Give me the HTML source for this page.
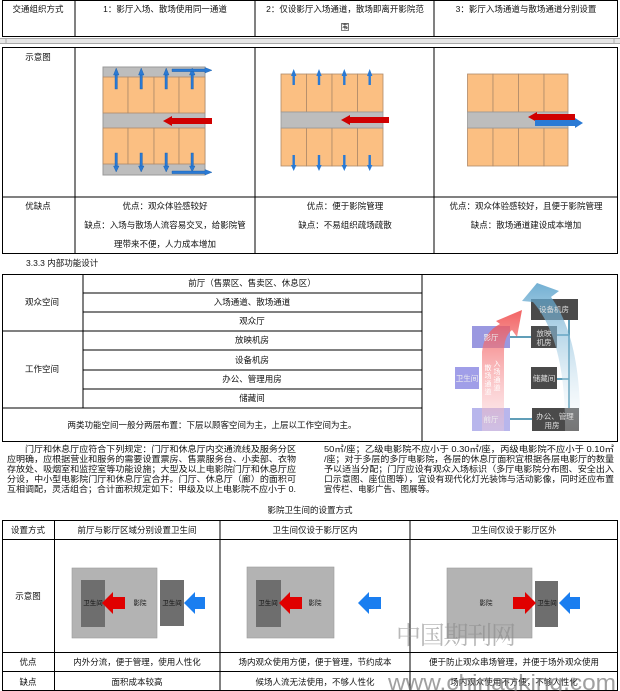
<!DOCTYPE html>
<html><head><meta charset="utf-8"><style>
html,body{margin:0;padding:0;background:#fff;width:620px;height:691px;overflow:hidden}
svg text{font-family:"Liberation Sans","Noto Sans CJK SC",sans-serif;font-size:8.5px;fill:#111}
</style></head><body>
<svg width="620" height="691" viewBox="0 0 620 691" xmlns="http://www.w3.org/2000/svg">
<defs>
<linearGradient id="rg" x1="0" y1="1" x2="0" y2="0"><stop offset="0" stop-color="#fbd0d6" stop-opacity="0.4"/><stop offset="1" stop-color="#f04848"/></linearGradient>
<linearGradient id="bg" x1="0" y1="1" x2="0" y2="0"><stop offset="0" stop-color="#ffffff" stop-opacity="0.3"/><stop offset="1" stop-color="#4f9cc8"/></linearGradient>
</defs>
<g stroke="#000" stroke-width="1" fill="none">
<!-- top table row1 -->
<rect x="2.5" y="0.5" width="615" height="36"/>
<line x1="75" y1="0" x2="75" y2="36"/><line x1="255" y1="0" x2="255" y2="36"/><line x1="434" y1="0" x2="434" y2="36"/>
<!-- rows 2,3 -->
<rect x="2.5" y="47.5" width="615" height="206"/>
<line x1="2" y1="197" x2="618" y2="197"/>
<line x1="75" y1="47" x2="75" y2="254"/><line x1="255" y1="47" x2="255" y2="254"/><line x1="434" y1="47" x2="434" y2="254"/>
</g>
<rect x="0" y="38" width="620" height="5" fill="#e6e6e6"/>
<line x1="0" y1="38.5" x2="620" y2="38.5" stroke="#aaa"/><line x1="0" y1="43.5" x2="620" y2="43.5" stroke="#aaa"/>
<line x1="6" y1="38" x2="6" y2="44" stroke="#aaa"/><line x1="614" y1="38" x2="614" y2="44" stroke="#aaa"/>
<text x="38" y="12" text-anchor="middle">交通组织方式</text>
<text x="165" y="12" text-anchor="middle">1：影厅入场、散场使用同一通道</text>
<text x="345" y="12" text-anchor="middle">2：仅设影厅入场通道，散场即离开影院范</text>
<text x="345" y="30" text-anchor="middle">围</text>
<text x="526" y="12" text-anchor="middle">3：影厅入场通道与散场通道分别设置</text>
<text x="38" y="60" text-anchor="middle">示意图</text>
<text x="38" y="209" text-anchor="middle">优缺点</text>
<text x="165" y="209" text-anchor="middle">优点：观众体验感较好</text>
<text x="165" y="228" text-anchor="middle">缺点：入场与散场人流容易交叉，给影院管</text>
<text x="165" y="247" text-anchor="middle">理带来不便，人力成本增加</text>
<text x="345" y="209" text-anchor="middle">优点：便于影院管理</text>
<text x="345" y="228" text-anchor="middle">缺点：不易组织疏场疏散</text>
<text x="526" y="209" text-anchor="middle">优点：观众体验感较好，且便于影院管理</text>
<text x="526" y="228" text-anchor="middle">缺点：散场通道建设成本增加</text>

<!-- diagram 1 -->
<rect x="103" y="67" width="102" height="108" fill="#bdbdbd" stroke="#999"/>
<g fill="#fbbf82" stroke="#b08a6a" stroke-width="0.8">
<rect x="103" y="77" width="25" height="36"/><rect x="128" y="77" width="26" height="36"/><rect x="154" y="77" width="25" height="36"/><rect x="179" y="77" width="26" height="36"/>
<rect x="103" y="128" width="25" height="36"/><rect x="128" y="128" width="26" height="36"/><rect x="154" y="128" width="25" height="36"/><rect x="179" y="128" width="26" height="36"/>
</g>
<g fill="#2a7ad5" stroke="#1a5ea8" stroke-width="0.4">
<g id="up"><rect x="115" y="74" width="2.4" height="15"/><polygon points="113.5,75 116.2,68 119,75"/></g>
<use href="#up" x="25"/><use href="#up" x="50"/><use href="#up" x="76"/>
<g id="dn"><rect x="115" y="153" width="2.4" height="14"/><polygon points="113.5,166 116.2,172 119,166"/></g>
<use href="#dn" x="25"/><use href="#dn" x="50"/><use href="#dn" x="76"/>
<polygon points="172,69 205,69 205,67.5 212,70.3 205,73 205,71.6 172,71.6"/>
<polygon points="172,171 205,171 205,169.5 212,172.3 205,175 205,173.6 172,173.6"/>
</g>
<polygon points="212,118 172,118 172,116 163,121 172,126 172,124 212,124" fill="#d00000"/>

<!-- diagram 2 -->
<g fill="#fbbf82" stroke="#b08a6a" stroke-width="0.8">
<rect x="281" y="74" width="25.5" height="38"/><rect x="306.5" y="74" width="25.5" height="38"/><rect x="332" y="74" width="25.5" height="38"/><rect x="357.5" y="74" width="25.5" height="38"/>
<rect x="281" y="128" width="25.5" height="38"/><rect x="306.5" y="128" width="25.5" height="38"/><rect x="332" y="128" width="25.5" height="38"/><rect x="357.5" y="128" width="25.5" height="38"/>
</g>
<rect x="281" y="112" width="102" height="16" fill="#bdbdbd" stroke="#999" stroke-width="0.8"/>
<g fill="#2a7ad5">
<g id="up2"><rect x="292.5" y="75" width="2.4" height="10"/><polygon points="291,76 293.7,69 296.4,76"/></g>
<use href="#up2" x="25.3"/><use href="#up2" x="50.6"/><use href="#up2" x="76"/>
<g id="dn2"><rect x="292.5" y="155" width="2.4" height="11"/><polygon points="291,165 293.7,171 296.4,165"/></g>
<use href="#dn2" x="25.3"/><use href="#dn2" x="50.6"/><use href="#dn2" x="76"/>
</g>
<polygon points="389,117 350,117 350,115 341,120 350,125 350,123 389,123" fill="#d00000"/>

<!-- diagram 3 -->
<g fill="#fbbf82" stroke="#b08a6a" stroke-width="0.8">
<rect x="467.5" y="74" width="25.5" height="38"/><rect x="493" y="74" width="25.5" height="38"/><rect x="518.5" y="74" width="25.5" height="38"/><rect x="544" y="74" width="24" height="38"/>
<rect x="467.5" y="128" width="25.5" height="38"/><rect x="493" y="128" width="25.5" height="38"/><rect x="518.5" y="128" width="25.5" height="38"/><rect x="544" y="128" width="24" height="38"/>
</g>
<rect x="467.5" y="112" width="100.5" height="16" fill="#bdbdbd" stroke="#999" stroke-width="0.8"/>
<polygon points="575,114 537,114 537,112 528,117 537,122 537,120 575,120" fill="#d00000"/>
<polygon points="535,120 575,120 575,118 583,123 575,128 575,126 535,126" fill="#2a7ad5"/>

<!-- section 2 -->
<text x="26" y="266">3.3.3 内部功能设计</text>
<g stroke="#000" stroke-width="1" fill="none">
<rect x="2.5" y="274.5" width="615" height="167"/>
<line x1="83" y1="274" x2="83" y2="408"/><line x1="422" y1="274" x2="422" y2="442"/>
<line x1="83" y1="293" x2="422" y2="293"/><line x1="83" y1="312" x2="422" y2="312"/>
<line x1="2" y1="331" x2="422" y2="331"/><line x1="83" y1="350" x2="422" y2="350"/>
<line x1="83" y1="370" x2="422" y2="370"/><line x1="83" y1="389" x2="422" y2="389"/>
<line x1="2" y1="408" x2="422" y2="408"/>
</g>
<text x="42" y="305" text-anchor="middle">观众空间</text>
<text x="42" y="372" text-anchor="middle">工作空间</text>
<g text-anchor="middle">
<text x="252" y="286">前厅（售票区、售卖区、休息区）</text>
<text x="252" y="305">入场通道、散场通道</text>
<text x="252" y="324">观众厅</text>
<text x="252" y="343">放映机房</text>
<text x="252" y="363">设备机房</text>
<text x="252" y="382">办公、管理用房</text>
<text x="252" y="401">储藏间</text>
<text x="212" y="428">两类功能空间一般分两层布置：下层以顾客空间为主，上层以工作空间为主。</text>
</g>
<!-- function diagram -->
<g stroke="#2b7ea0" stroke-width="1.5">
<line x1="569" y1="320" x2="569" y2="418"/>
<line x1="510" y1="337" x2="531" y2="337"/><line x1="557" y1="335" x2="569" y2="335"/>
<line x1="557" y1="379" x2="569" y2="379"/><line x1="510" y1="419" x2="532" y2="419"/>
</g>
<rect x="531" y="299" width="47" height="21" fill="#4a4a4a"/>
<rect x="531" y="326" width="26" height="22" fill="#4a4a4a"/>
<rect x="531" y="367" width="26" height="22" fill="#4a4a4a"/>
<rect x="532" y="408" width="47" height="23" fill="#4a4a4a"/>
<rect x="472" y="326" width="38" height="22" fill="#9a98e0"/>
<rect x="455" y="367" width="24" height="22" fill="#a09ee8"/>
<rect x="472" y="408" width="38" height="23" fill="#b8b6ec"/>
<path d="M482,431 L482,352 Q484,332 500,324 L496,321 L522,310 L517,337 L512,330 Q504,336 504,352 L504,431 Z" fill="url(#rg)" opacity="0.85"/>
<path d="M565,431 Q566,340 533,302 L522,301 L537,283 L559,291 L551,297 Q582,340 580,431 Z" fill="url(#bg)" opacity="0.8"/>
<g style="font-size:7.5px" text-anchor="middle">
<text x="554" y="312" style="fill:#ddd;font-size:7.5px">设备机房</text>
<text x="544" y="336" style="fill:#ddd;font-size:7.5px">放映</text>
<text x="544" y="345" style="fill:#ddd;font-size:7.5px">机房</text>
<text x="544" y="381" style="fill:#ddd;font-size:7.5px">储藏间</text>
<text x="555" y="419" style="fill:#ddd;font-size:7.5px">办公、管理</text>
<text x="552" y="428" style="fill:#ddd;font-size:7.5px">用房</text>
<text x="491" y="340" style="fill:#eee;font-size:7.5px">影厅</text>
<text x="467" y="381" style="fill:#eee;font-size:7.5px">卫生间</text>
<text x="491" y="422" style="fill:#eee;font-size:7.5px">前厅</text>
<text x="488" y="370" style="fill:#fff;font-size:7px">散</text><text x="488" y="378" style="fill:#fff;font-size:7px">场</text><text x="488" y="386" style="fill:#fff;font-size:7px">通</text><text x="488" y="394" style="fill:#fff;font-size:7px">道</text>
<text x="497" y="366" style="fill:#fff;font-size:7px">入</text><text x="497" y="374" style="fill:#fff;font-size:7px">场</text><text x="497" y="382" style="fill:#fff;font-size:7px">通</text><text x="497" y="390" style="fill:#fff;font-size:7px">道</text>
</g>
<!-- paragraphs -->
<g style="font-size:8.3px">
<text x="25" y="452" textLength="271" lengthAdjust="spacingAndGlyphs">门厅和休息厅应符合下列规定：门厅和休息厅内交通流线及服务分区</text>
<text x="7" y="462" textLength="289" lengthAdjust="spacingAndGlyphs">应明确，应根据营业和服务的需要设置票房、售票服务台、小卖部、衣物</text>
<text x="7" y="472" textLength="289" lengthAdjust="spacingAndGlyphs">存放处、吸烟室和监控室等功能设施；大型及以上电影院门厅和休息厅应</text>
<text x="7" y="482" textLength="289" lengthAdjust="spacingAndGlyphs">分设，中小型电影院门厅和休息厅宜合并。门厅、休息厅（廊）的面积可</text>
<text x="7" y="492" textLength="289" lengthAdjust="spacingAndGlyphs">互相调配，灵活组合；合计面积规定如下：甲级及以上电影院不应小于 0.</text>
<text x="324" y="452" textLength="290" lengthAdjust="spacingAndGlyphs">50㎡/座；乙级电影院不应小于 0.30㎡/座，丙级电影院不应小于 0.10㎡</text>
<text x="324" y="462" textLength="290" lengthAdjust="spacingAndGlyphs">/座；对于多层的多厅电影院，各层的休息厅面积宜根据各层电影厅的数量</text>
<text x="324" y="472" textLength="290" lengthAdjust="spacingAndGlyphs">予以适当分配；门厅应设有观众入场标识（多厅电影院分布图、安全出入</text>
<text x="324" y="482" textLength="290" lengthAdjust="spacingAndGlyphs">口示意图、座位图等），宜设有现代化灯光装饰与活动影像，同时还应布置</text>
<text x="324" y="492">宣传栏、电影广告、图展等。</text>
</g>
<text x="310" y="513" text-anchor="middle">影院卫生间的设置方式</text>
<!-- bottom table -->
<g stroke="#000" stroke-width="1" fill="none">
<rect x="2.5" y="520.5" width="615" height="170"/>
<line x1="2" y1="539.5" x2="618" y2="539.5"/><line x1="2" y1="652.5" x2="618" y2="652.5"/><line x1="2" y1="671.5" x2="618" y2="671.5"/>
<line x1="54.5" y1="520" x2="54.5" y2="691"/><line x1="220" y1="520" x2="220" y2="691"/><line x1="410" y1="520" x2="410" y2="691"/>
</g>
<g text-anchor="middle">
<text x="28" y="533">设置方式</text>
<text x="137" y="533">前厅与影厅区域分别设置卫生间</text>
<text x="315" y="533">卫生间仅设于影厅区内</text>
<text x="514" y="533">卫生间仅设于影厅区外</text>
<text x="28" y="599">示意图</text>
<text x="28" y="665">优点</text>
<text x="137" y="665">内外分流，便于管理，使用人性化</text>
<text x="315" y="665">场内观众使用方便，便于管理，节约成本</text>
<text x="514" y="665">便于防止观众串场管理，并便于场外观众使用</text>
<text x="28" y="685">缺点</text>
<text x="137" y="685">面积成本较高</text>
<text x="315" y="685">候场人流无法使用，不够人性化</text>
<text x="514" y="685">场内观众使用不方便，不够人性化</text>
</g>
<!-- bottom diagrams -->
<g style="font-size:6.5px">
<rect x="72" y="568" width="85" height="70" fill="#b3b3b3" stroke="#999" stroke-width="0.6"/>
<rect x="81" y="580" width="24" height="47" fill="#6e6e6e"/>
<rect x="160" y="580" width="24" height="46" fill="#6e6e6e"/>
<text x="93" y="605" text-anchor="middle" style="font-size:6.5px">卫生间</text>
<text x="140" y="605" text-anchor="middle" style="font-size:6.5px">影院</text>
<text x="172" y="605" text-anchor="middle" style="font-size:6.5px">卫生间</text>
<polygon points="102,603 113,592 113,597 125,597 125,609 113,609 113,614" fill="#e00000"/>
<polygon points="184,603 195,592 195,597 205,597 205,609 195,609 195,614" fill="#1a7ef0"/>

<rect x="247" y="567" width="87" height="71" fill="#b3b3b3" stroke="#999" stroke-width="0.6"/>
<rect x="256" y="580" width="25" height="47" fill="#6e6e6e"/>
<text x="268" y="605" text-anchor="middle" style="font-size:6.5px">卫生间</text>
<text x="315" y="605" text-anchor="middle" style="font-size:6.5px">影院</text>
<polygon points="279,603 290,592 290,597 302,597 302,609 290,609 290,614" fill="#e00000"/>
<polygon points="358,603 369,592 369,597 381,597 381,609 369,609 369,614" fill="#1a7ef0"/>

<rect x="447" y="568" width="85" height="70" fill="#b3b3b3" stroke="#999" stroke-width="0.6"/>
<rect x="535" y="581" width="23" height="46" fill="#6e6e6e"/>
<text x="486" y="605" text-anchor="middle" style="font-size:6.5px">影院</text>
<text x="547" y="605" text-anchor="middle" style="font-size:6.5px">卫生间</text>
<polygon points="536,603 525,592 525,597 513,597 513,609 525,609 525,614" fill="#e00000"/>
<polygon points="559,603 570,592 570,597 580,597 580,609 570,609 570,614" fill="#1a7ef0"/>
</g>
<!-- watermark -->
<text x="396" y="644" style="font-family:'Noto Serif CJK SC',serif;font-size:25px;fill:#888;fill-opacity:0.6" textLength="120">中国期刊网</text>
<text x="388" y="690" style="font-family:'Liberation Sans',sans-serif;font-size:22px;fill:#777;fill-opacity:0.7" textLength="228" lengthAdjust="spacingAndGlyphs">www.chinaqking.com</text>
</svg>
</body></html>
